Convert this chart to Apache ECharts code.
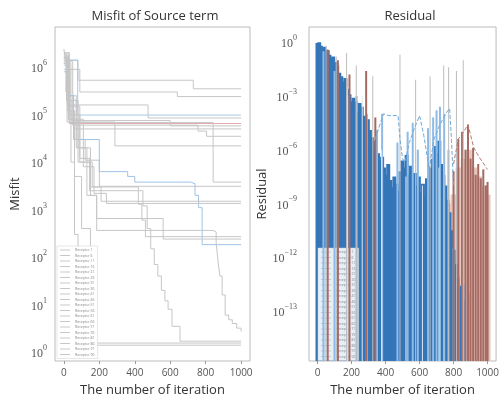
<!DOCTYPE html>
<html>
<head>
<meta charset="utf-8">
<script src="https://cdn.jsdelivr.net/npm/echarts@6.0.0/dist/echarts.min.js"></script>
<style>
  html, body { margin: 0; padding: 0; background: #fff; }
  #chart { width: 502px; height: 402px; }
</style>
</head>
<body>
<div id="chart"></div>
<script>
  // ---- data ----
  var receptorNames = ['Receptor 1', 'Receptor 6', 'Receptor 11', 'Receptor 16', 'Receptor 21',
    'Receptor 26', 'Receptor 31', 'Receptor 36', 'Receptor 41', 'Receptor 46',
    'Receptor 51', 'Receptor 56', 'Receptor 61', 'Receptor 66', 'Receptor 71',
    'Receptor 76', 'Receptor 81', 'Receptor 86', 'Receptor 91', 'Receptor 96']

  // misfit per receptor: [iteration, misfit] at the points where the value changes
  var misfit1 = [[0, 2.4e6], [10, 1.4e6], [80, 5.3e5], [730, 3.5e5], [1000, 3.5e5]]
  var misfit6 = [[0, 1.9e6], [15, 9e5], [90, 3.0e5], [640, 2.4e5], [1000, 2.4e5]]
  var misfit11 = [[0, 1.6e6], [20, 1.6e5], [475, 8.5e4], [1000, 8.5e4]]
  var misfit16 = [[0, 8e5], [20, 1.4e6], [78, 9.8e4], [1000, 9.8e4]]
  var misfit21 = [[0, 1.2e6], [12, 3e5], [30, 6.5e4], [1000, 6.5e4]]
  var misfit26 = [[0, 9e5], [35, 1.2e5], [60, 5.0e4], [1000, 5.0e4]]
  var misfit31 = [[0, 1.3e6], [50, 6e4], [757, 4.5e4], [805, 3.5e4], [1000, 3.5e4]]
  var misfit36 = [[0, 1.5e6], [18, 7e4], [288, 2.2e4], [1000, 2.2e4]]
  var misfit41 = [[0, 1.2e6], [40, 6.8e4], [842, 3.8e3], [1000, 3.8e3]]
  var misfit46 = [[0, 2e6], [30, 2.5e5], [70, 3e4], [120, 1.1e4], [200, 3.1e3], [1000, 3.1e3]]
  var misfit51 = [[0, 1.6e6], [25, 2.5e5], [55, 3e4], [200, 6.3e3], [360, 5e3], [400, 3.8e3],
    [715, 3.5e3], [740, 2e3], [760, 1.1e3], [780, 183], [1000, 183]]
  var misfit56 = [[0, 1.1e6], [30, 1e5], [90, 1e4], [160, 3e3], [210, 1.5e3], [1000, 1.5e3]]
  var misfit61 = [[0, 1.4e6], [28, 8e4], [110, 8e3], [170, 2.2e3], [240, 1.35e3], [1000, 1.35e3]]
  var misfit66 = [[0, 1.7e6], [20, 2e5], [70, 2e4], [130, 2e3], [185, 650], [560, 240], [1000, 234]]
  var misfit71 = [[0, 2e6], [30, 2e5], [80, 2e4], [150, 3e3], [420, 2.5e3], [446, 1.2e3], [470, 400],
    [490, 150], [510, 70], [530, 40], [550, 20], [570, 12], [588, 8], [610, 3.5], [655, 1.7], [1000, 1.7]]
  var misfit76 = [[0, 1.5e6], [30, 1e5], [80, 1e4], [150, 2e3], [185, 365], [842, 340], [859, 200],
    [870, 80], [880, 40], [893, 16], [910, 6], [930, 4.8], [950, 4], [975, 3.2], [1000, 2.7]]
  var misfit81 = [[0, 1.8e6], [25, 1.5e5], [90, 1.2e4], [145, 2.5e3], [420, 1.3e3], [440, 600],
    [460, 270], [1000, 270]]
  var misfit86 = [[0, 1.3e6], [20, 1.2e5], [40, 1e4], [60, 300], [80, 1.4], [1000, 1.4]]
  var misfit91 = [[0, 1.6e6], [25, 8e4], [60, 5e3], [100, 400], [150, 1.55], [1000, 1.55]]
  var misfit96 = [[0, 1.2e6], [15, 2e5], [45, 7.5e4], [600, 5.8e4], [1000, 5.8e4]]

  var misfitData = [misfit1, misfit6, misfit11, misfit16, misfit21, misfit26, misfit31, misfit36,
    misfit41, misfit46, misfit51, misfit56, misfit61, misfit66, misfit71, misfit76,
    misfit81, misfit86, misfit91, misfit96]

  // residual (log10 values), read as vertical strokes from the floor
  var resDark = [[0, -0.05], [10, 0.0], [20, -0.2], [30, -0.35], [40, -0.25], [50, -0.5], [60, -0.45],
    [70, -0.7], [80, -0.9], [92, -0.8], [104, -1.1], [116, -1.3], [128, -1.7], [140, -1.9], [152, -2.2],
    [164, -2.0], [176, -2.6], [188, -2.9], [200, -3.3], [212, -3.1], [224, -3.3], [236, -3.9], [248, -3.4],
    [260, -3.6], [272, -4.1], [284, -4.5], [296, -4.3], [308, -4.9], [320, -5.3], [332, -5.8], [344, -5.5],
    [356, -6.2], [368, -6.6], [380, -6.4], [392, -7.0], [404, -7.4], [416, -6.8], [428, -7.7], [440, -8.1],
    [452, -7.5], [464, -7.9], [476, -8.3], [488, -7.2], [500, -6.6], [512, -7.0], [524, -6.3], [536, -7.4],
    [548, -6.9], [560, -7.8], [572, -7.3], [584, -8.0], [596, -7.5], [608, -8.4], [620, -7.9], [632, -8.6],
    [644, -7.6], [656, -8.2], [668, -7.0], [680, -6.5], [692, -5.8], [704, -6.2], [716, -5.5], [728, -6.8],
    [740, -7.4], [752, -8.0], [764, -8.8], [776, -9.5], [788, -10.5], [800, -11.6], [812, -12.4],
    [824, -13.2], [836, -13.6], [848, -14.0], [860, -14.4]]
  var resLight = [[35, -0.5], [100, -1.6], [175, -3.0], [230, -3.0], [290, -4.0], [350, -4.9],
    [380, -4.0], [470, -5.6], [530, -5.0], [560, -4.5], [590, -6.0], [650, -4.8], [680, -4.2],
    [700, -3.8], [720, -3.6], [745, -4.0], [770, -6.0], [800, -11.5], [830, -13.0], [860, -13.5], [890, -14.0]]
  var resStripe = [[177, -2.5], [263, -3.0], [377, -6.0], [520, -7.5], [617, -8.0], [714, -7.0]]
  var resPink = [[770, -9.0], [800, -8.5], [830, -7.0], [860, -6.5], [890, -6.0], [920, -7.0],
    [950, -7.5], [980, -8.0], [1000, -8.5]]
  var resBrown = [[60, -0.4], [120, -1.0], [188, -1.8], [286, -1.6], [340, -4.2], [800, -7.2],
    [828, -5.4], [850, -5.0], [870, -6.0], [885, -4.6], [900, -6.5], [915, -5.9], [930, -7.4],
    [945, -6.8], [960, -7.6], [975, -7.1], [990, -8.0], [1000, -7.8]]
  var resGray = [[50, -0.2], [110, -0.8], [171, -0.6], [228, -1.3], [325, -1.9], [485, -0.7],
    [577, -2.1], [662, -1.9], [742, -1.3], [771, -1.4], [817, -1.6], [857, -1.0]]
  var resBlueCurve = [[340, -5.4], [360, -4.8], [388, -4.0], [420, -4.1], [474, -4.1], [485, -5.4],
    [500, -6.5], [514, -6.7], [540, -5.6], [570, -4.8], [600, -4.1], [625, -5.2], [657, -7.1],
    [685, -5.4], [720, -4.6], [760, -3.9], [777, -3.7], [788, -5.5], [800, -8.0]]
  var resBrownCurve = [[800, -6.8], [828, -5.4], [860, -5.0], [885, -4.6], [919, -5.9], [950, -6.4], [999, -7.1]]

  // tick labels
  var misfitTickExp = [0, 1, 2, 3, 4, 5, 6]
  var misfitTickSup = ['0', '1', '2', '3', '4', '5', '6']
  var resTickExp = [0, -3, -6, -9, -12, -15]
  var resTickSup = ['0', '\u22123', '\u22126', '\u22129', '\u221212', '\u221213']

  var misfitColors = ['#c6c6c6', '#c6c6c6', '#c6c6c6', '#a9c9e8', '#e3abab', '#c6c6c6', '#c6c6c6',
    '#c6c6c6', '#c6c6c6', '#c6c6c6', '#9fc3e6', '#c6c6c6', '#c6c6c6', '#c6c6c6', '#c6c6c6',
    '#c6c6c6', '#c6c6c6', '#c6c6c6', '#c6c6c6', '#c6c6c6']

  // ---- chart ----
  var chart = echarts.init(document.getElementById('chart'), null, { renderer: 'canvas' })

  var resMin = Math.pow(10, -17.8)
  var resMax = Math.pow(10, 0.85)

  function toVal(arr) {
    return arr.map(function (p) { return [p[0], Math.pow(10, p[1])] })
  }

  function strokes(width) {
    return function (params, api) {
      var top = api.coord([api.value(0), api.value(1)])
      var base = api.coord([api.value(0), resMin])
      return {
        type: 'rect',
        shape: { x: top[0] - width / 2, y: top[1], width: width, height: base[1] - top[1] },
        style: { fill: api.visual('color') }
      }
    }
  }

  function supLabel(exps, sups) {
    return function (v) {
      var e = Math.log10(v)
      var k = Math.round(e)
      if (Math.abs(e - k) > 1e-6) return ''
      var i = exps.indexOf(k)
      return i < 0 ? '' : '{b|10}{s|' + sups[i] + '}'
    }
  }

  var tickRich = {
    b: { fontFamily: 'Liberation Serif', fontSize: 12, color: '#555', lineHeight: 16, verticalAlign: 'bottom' },
    s: { fontFamily: 'Liberation Serif', fontSize: 8, color: '#555', lineHeight: 16, verticalAlign: 'top' }
  }

  var legendBase = {
    orient: 'vertical',
    data: receptorNames,
    icon: 'rect',
    itemWidth: 10,
    itemHeight: 1,
    itemGap: 1.5,
    padding: [2, 3],
    backgroundColor: 'rgba(255,255,255,0.88)',
    borderColor: '#cfcfcf',
    borderWidth: 0.5,
    itemStyle: { color: '#c8c8c8' },
    textStyle: { fontSize: 3.5, lineHeight: 4, color: '#888', fontFamily: 'Open Sans' },
    selectedMode: false
  }

  var series = []
  misfitData.forEach(function (d, i) {
    series.push({
      name: receptorNames[i],
      type: 'line',
      xAxisIndex: 0,
      yAxisIndex: 0,
      step: 'end',
      showSymbol: false,
      data: d,
      lineStyle: { width: 1, color: misfitColors[i] },
      itemStyle: { color: misfitColors[i] },
      z: 2
    })
  })

  var strokeSets = [
    { name: 'pink', data: resPink, color: '#e6c6bf', w: 6 },
    { name: 'dark', data: resDark, color: '#3476b8', w: 4 },
    { name: 'light', data: resLight, color: '#8dbbe6', w: 2 },
    { name: 'stripe', data: resStripe, color: '#dbe8f4', w: 1 },
    { name: 'brown', data: resBrown, color: '#a56a61', w: 2 },
    { name: 'gray', data: resGray, color: '#bdbdbd', w: 1 }
  ]
  strokeSets.forEach(function (s, i) {
    series.push({
      name: s.name,
      type: 'custom',
      xAxisIndex: 1,
      yAxisIndex: 1,
      clip: true,
      renderItem: strokes(s.w),
      data: toVal(s.data),
      itemStyle: { color: s.color },
      z: 2 + i
    })
  })
  series.push({
    name: 'blueCurve', type: 'line', xAxisIndex: 1, yAxisIndex: 1, showSymbol: false,
    data: toVal(resBlueCurve), lineStyle: { width: 1, color: '#6fa8dc', type: 'dashed' }, z: 10
  })
  series.push({
    name: 'brownCurve', type: 'line', xAxisIndex: 1, yAxisIndex: 1, showSymbol: false,
    data: toVal(resBrownCurve), lineStyle: { width: 1, color: '#b9786d', type: 'dashed' }, z: 10
  })

  var xAxisBase = {
    type: 'value',
    min: -50,
    max: 1050,
    axisLine: { show: false },
    axisTick: { show: true, length: 3, lineStyle: { color: '#999' } },
    splitLine: { show: false },
    axisLabel: {
      showMinLabel: false, showMaxLabel: false, margin: 7,
      fontFamily: 'Open Sans', fontSize: 10, color: '#555',
      formatter: function (v) { return String(v) }
    },
    name: 'The number of iteration',
    nameLocation: 'middle',
    nameGap: 23,
    nameTextStyle: { fontFamily: 'Open Sans', fontSize: 13, color: '#333' }
  }

  var option = {
    animation: false,
    backgroundColor: '#fff',
    title: [
      { text: 'Misfit of Source term', left: 150, top: 5, textAlign: 'center',
        textStyle: { fontFamily: 'Open Sans', fontSize: 13, fontWeight: 'normal', color: '#333' } },
      { text: 'Residual', left: 405, top: 5, textAlign: 'center',
        textStyle: { fontFamily: 'Open Sans', fontSize: 13, fontWeight: 'normal', color: '#333' } }
    ],
    legend: [
      Object.assign({}, legendBase, { left: 57, top: 246 }),
      Object.assign({}, legendBase, { left: 318, top: 248 })
    ],
    grid: [
      { left: 55, top: 27, width: 195, height: 335, show: true, borderColor: '#bbbbbb', borderWidth: 1 },
      { left: 309, top: 27, width: 191, height: 335, show: true, borderColor: '#bbbbbb', borderWidth: 1 }
    ],
    xAxis: [
      Object.assign({}, xAxisBase, { gridIndex: 0 }),
      Object.assign({}, xAxisBase, { gridIndex: 1 })
    ],
    yAxis: [
      {
        gridIndex: 0,
        type: 'log',
        min: 0.65,
        max: 7e6,
        axisLine: { show: false },
        axisTick: { show: false },
        splitLine: { show: false },
        axisLabel: {
          showMinLabel: false, showMaxLabel: false, margin: 8,
          formatter: supLabel(misfitTickExp, misfitTickSup), rich: tickRich
        },
        name: 'Misfit',
        nameLocation: 'middle',
        nameGap: 33,
        nameTextStyle: { fontFamily: 'Open Sans', fontSize: 13, color: '#333' }
      },
      {
        gridIndex: 1,
        type: 'log',
        logBase: 1000,
        min: resMin,
        max: resMax,
        axisLine: { show: false },
        axisTick: { show: false },
        splitLine: { show: false },
        axisLabel: {
          showMinLabel: false, showMaxLabel: false, margin: 12,
          formatter: supLabel(resTickExp, resTickSup), rich: tickRich
        },
        name: 'Residual',
        nameLocation: 'middle',
        nameGap: 38,
        nameTextStyle: { fontFamily: 'Open Sans', fontSize: 13, color: '#333' }
      }
    ],
    series: series
  }

  chart.setOption(option)
</script>
</body>
</html>
